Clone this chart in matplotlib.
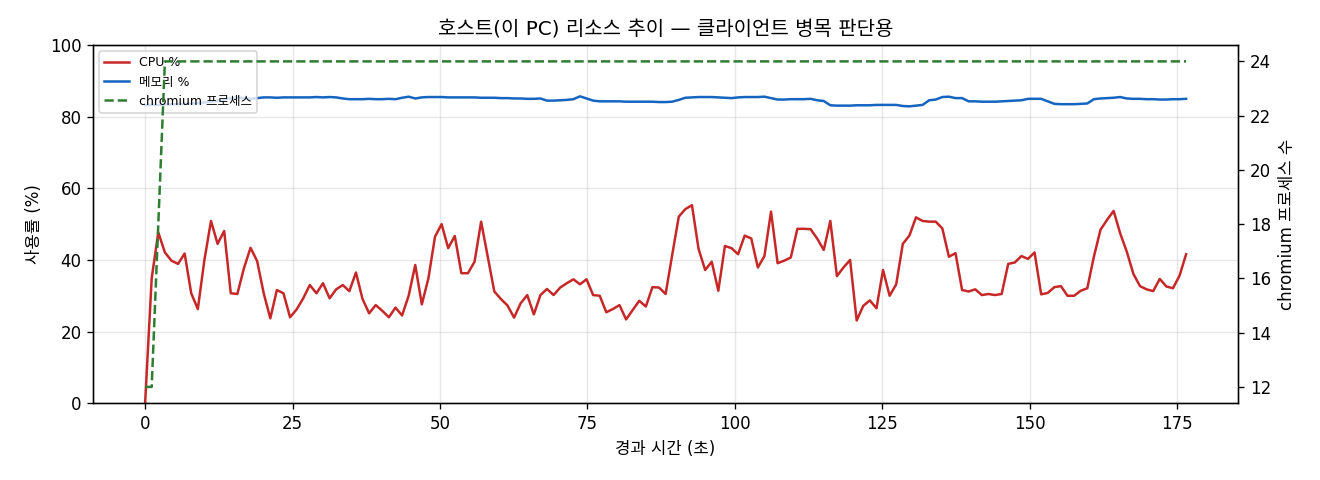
# Host resource trend (CPU / memory / chromium process count)
import numpy as np
import matplotlib
matplotlib.use('Agg')
import matplotlib.pyplot as plt

plt.rcParams['font.family'] = ['DejaVu Sans', 'Noto Sans CJK KR']

# sampling interval of the monitor log (seconds)
sample_sec = 1.117

cpu_pct = [
    0.0, 34.9, 47.7, 42.1, 39.8, 38.9, 41.8, 30.7, 26.3, 40.0,
    50.9, 44.5, 48.1, 30.7, 30.5, 37.7, 43.4, 39.7, 30.7, 23.7,
    31.6, 30.7, 24.0, 26.2, 29.3, 33.0, 30.7, 33.5, 29.3, 31.8,
    33.0, 31.3, 36.5, 29.1, 25.1, 27.4, 25.8, 24.0, 26.7, 24.5,
    30.0, 38.6, 27.6, 34.9, 46.5, 50.0, 43.3, 46.7, 36.3, 36.3,
    39.5, 50.7, 40.9, 31.2, 29.1, 27.3, 23.9, 27.9, 30.2, 24.8,
    30.2, 31.9, 30.2, 32.3, 33.5, 34.6, 33.2, 34.6, 30.2, 30.0,
    25.4, 26.3, 27.4, 23.4, 26.0, 28.6, 27.0, 32.4, 32.3, 30.5,
    41.4, 52.1, 54.2, 55.3, 43.1, 37.2, 39.5, 31.4, 43.9, 43.3,
    41.6, 46.8, 46.0, 37.9, 41.1, 53.5, 39.1, 39.8, 40.7, 48.7,
    48.7, 48.6, 46.0, 42.8, 50.9, 35.5, 37.9, 40.0, 23.1, 27.2,
    28.7, 26.5, 37.2, 30.0, 33.2, 44.5, 46.8, 51.9, 50.9, 50.7,
    50.7, 48.8, 40.9, 41.9, 31.6, 31.2, 31.8, 30.2, 30.5, 30.2,
    30.5, 38.9, 39.3, 41.1, 40.3, 42.1, 30.4, 30.8, 32.4, 32.7,
    30.0, 30.0, 31.4, 32.1, 40.9, 48.4, 51.2, 53.7, 47.4, 42.3,
    36.1, 32.7, 31.8, 31.3, 34.7, 32.6, 32.1, 35.6, 41.6,
]

mem_pct = [
    83.2, 83.3, 83.3, 83.4, 83.5, 83.5, 83.6, 83.7, 83.8, 84.0,
    84.2, 84.5, 84.8, 85.2, 85.4, 85.2, 85.0, 85.2, 85.4, 85.4,
    85.3, 85.4, 85.4, 85.4, 85.4, 85.4, 85.5, 85.4, 85.5, 85.4,
    85.1, 84.9, 84.9, 84.9, 85.0, 84.9, 84.9, 85.0, 84.9, 85.3,
    85.6, 85.1, 85.4, 85.5, 85.5, 85.5, 85.4, 85.4, 85.4, 85.4,
    85.4, 85.3, 85.3, 85.3, 85.2, 85.2, 85.1, 85.1, 85.0, 85.0,
    85.1, 84.5, 84.5, 84.6, 84.7, 84.9, 85.7, 85.1, 84.5, 84.3,
    84.3, 84.3, 84.3, 84.2, 84.2, 84.2, 84.2, 84.2, 84.1, 84.1,
    84.2, 84.7, 85.3, 85.4, 85.5, 85.5, 85.5, 85.4, 85.3, 85.2,
    85.4, 85.5, 85.5, 85.5, 85.6, 85.2, 84.8, 84.8, 84.9, 84.9,
    84.9, 85.0, 84.6, 84.4, 83.2, 83.1, 83.1, 83.1, 83.2, 83.2,
    83.2, 83.3, 83.3, 83.3, 83.3, 83.0, 82.9, 83.1, 83.3, 84.6,
    84.8, 85.5, 85.6, 85.2, 85.2, 84.3, 84.3, 84.2, 84.2, 84.2,
    84.3, 84.4, 84.5, 84.6, 85.0, 85.0, 85.0, 84.3, 83.6, 83.5,
    83.5, 83.5, 83.6, 83.7, 84.9, 85.1, 85.2, 85.3, 85.5, 85.1,
    85.0, 85.0, 84.9, 84.9, 84.8, 84.8, 84.9, 84.9, 85.0,
]

# chromium process count: starts at 12, settles at 24 after ~3 s
chromium_procs = [12, 12, 18] + [24] * 156

elapsed = np.arange(len(cpu_pct)) * sample_sec

fig, ax1 = plt.subplots(figsize=(11, 4), dpi=120)
fig.subplots_adjust(left=0.0705, right=0.938, top=0.906, bottom=0.16)

l1, = ax1.plot(elapsed, cpu_pct, color='#c62828', lw=1.5, label='CPU %')
l2, = ax1.plot(elapsed, mem_pct, color='#1565c0', lw=1.5, label='메모리 %')
ax1.set_ylim(0, 100)
ax1.set_xlabel('경과 시간 (초)')
ax1.set_ylabel('사용률 (%)')
ax1.grid(True, alpha=0.3)

ax2 = ax1.twinx()
l3, = ax2.plot(elapsed, chromium_procs, color='#2e7d32', lw=1.5, ls='--',
               label='chromium 프로세스')
ax2.set_ylabel('chromium 프로세스 수')

ax1.legend(handles=[l1, l2, l3], loc='upper left', fontsize=7.5)
ax1.set_title('호스트(이 PC) 리소스 추이 — 클라이언트 병목 판단용', fontsize=12)

plt.savefig('out.png')
